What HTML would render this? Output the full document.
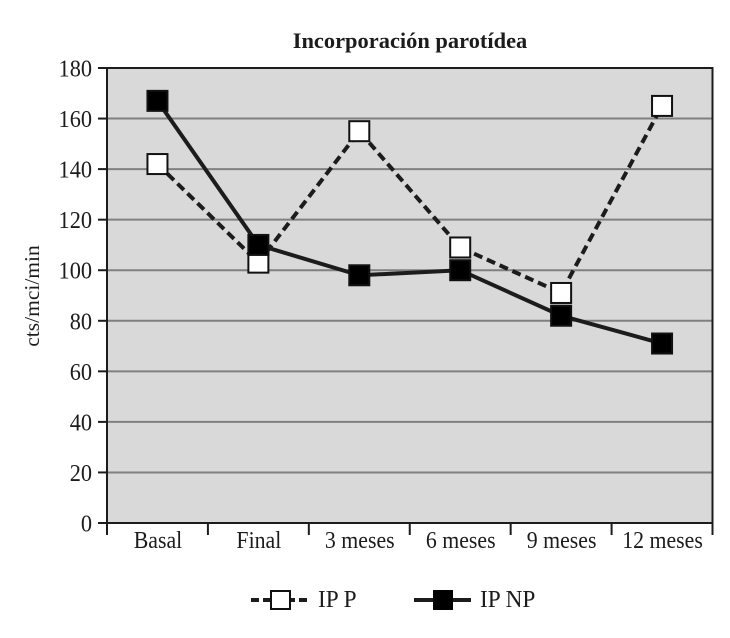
<!DOCTYPE html>
<html lang="es">
<head>
<meta charset="utf-8">
<title>Incorporación parotídea</title>
<style>
html,body{margin:0;padding:0;background:#fff;width:730px;height:638px;overflow:hidden}
svg{display:block}
text{font-family:"Liberation Serif",serif;fill:#1c1c1c}
</style>
</head>
<body>
<svg id="chart" xmlns="http://www.w3.org/2000/svg" width="730" height="638" viewBox="0 0 730 638"></svg>
<script>
const categories = ['Basal', 'Final', '3 meses', '6 meses', '9 meses', '12 meses'];
const ipPValues = [142, 103, 155, 109, 91, 165];
const ipNpValues = [167, 110, 98, 100, 82, 71];
const yTicks = [0, 20, 40, 60, 80, 100, 120, 140, 160, 180];

const NS = 'http://www.w3.org/2000/svg';
const svg = document.getElementById('chart');
const L = 107, R = 712.5, T = 68, B = 523, YMAX = 180;
const sx = i => L + (R - L) * (i + 0.5) / categories.length;
const edge = i => L + (R - L) * i / categories.length;
const sy = v => B - (B - T) * v / YMAX;

function mk(tag, attrs, parent) {
  const el = document.createElementNS(NS, tag);
  for (const k in attrs) el.setAttribute(k, attrs[k]);
  (parent || svg).appendChild(el);
  return el;
}
function label(str, x, y, size, anchor, sxScale) {
  const el = mk('text', {'text-anchor': anchor, 'font-size': size,
    transform: 'translate(' + x + ',' + y + ') scale(' + sxScale + ',1)'});
  el.textContent = str;
  return el;
}

const title = label('Incorporación parotídea', 410, 48, 22, 'middle', 1.02);
title.setAttribute('font-weight', 'bold');



const plot = mk('rect', {x: L, y: T, width: R - L, height: B - T, fill: '#d9d9d9'});



yTicks.forEach(v => {
  if (v !== 0 && v !== YMAX) {
    const g = mk('line', {x1: L, x2: R, y1: sy(v), y2: sy(v), stroke: '#808080', 'stroke-width': 2});
    
    
  }
  const t = mk('line', {x1: L - 9, x2: L, y1: sy(v), y2: sy(v), stroke: '#1c1c1c', 'stroke-width': 2});
  
  
  const lb = label(String(v), 92, sy(v) + 8.5, 24, 'end', 0.93);
  
  
});

const frame = mk('rect', {x: L, y: T, width: R - L, height: B - T, fill: 'none', stroke: '#1c1c1c', 'stroke-width': 2});



for (let i = 0; i <= categories.length; i++) {
  const t = mk('line', {x1: edge(i), x2: edge(i), y1: B, y2: B + 12, stroke: '#1c1c1c', 'stroke-width': 2});
  
  
}
categories.forEach((c, i) => {
  const lb = label(c, sx(i) + 0.5, 548, 24, 'middle', 0.91);
  
  
});

const yTitle = mk('text', {'text-anchor': 'middle', 'font-size': 21.5,
  transform: 'translate(39,296) rotate(-90)'});
yTitle.textContent = 'cts/mci/min';



function series(values, name, dash, fill) {
  const line = mk('polyline', {
    points: values.map((v, i) => sx(i) + ',' + sy(v)).join(' '),
    fill: 'none', stroke: '#1c1c1c', 'stroke-width': 4
  });
  if (dash) line.setAttribute('stroke-dasharray', dash);
  
  
  values.forEach((v, i) => {
    const m = mk('rect', {x: sx(i) - 10, y: sy(v) - 10, width: 20, height: 20, fill: fill, stroke: '#111', 'stroke-width': 2});
    
    
  });
}
series(ipPValues, 'ip-p', '9 5', '#fff');
series(ipNpValues, 'ip-np', null, '#000');

const leg1 = mk('line', {x1: 251, x2: 310, y1: 600, y2: 600, stroke: '#1c1c1c', 'stroke-width': 4, 'stroke-dasharray': '8 4'});


const leg1m = mk('rect', {x: 271, y: 591, width: 19, height: 18, fill: '#fff', stroke: '#111', 'stroke-width': 2});


const leg1t = label('IP P', 318, 607, 24, 'start', 0.97);



const leg2 = mk('line', {x1: 414, x2: 471, y1: 600, y2: 600, stroke: '#1c1c1c', 'stroke-width': 4});


const leg2m = mk('rect', {x: 433, y: 590, width: 20, height: 20, fill: '#000'});


const leg2t = label('IP NP', 480, 607, 24, 'start', 0.97);


</script>
</body>
</html>
